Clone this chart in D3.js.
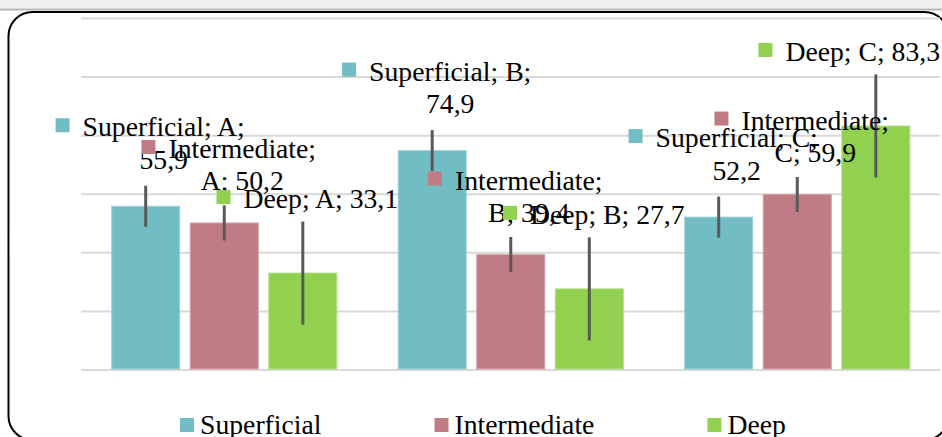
<!DOCTYPE html>
<html>
<head>
<meta charset="utf-8">
<script src="https://cdn.jsdelivr.net/npm/d3@7"></script>
<style>
  html, body { margin: 0; padding: 0; background: #fff; }
  svg { display: block; }
  text { font-family: "Liberation Serif", "Times New Roman", serif; fill: #000; }
</style>
</head>
<body>
<svg id="chart" width="942" height="437"></svg>
<script>
// data
var categories = ["A", "B", "C"];
var seriesNames = ["Superficial", "Intermediate", "Deep"];
var superficial = [55.9, 74.9, 52.2];
var intermediate = [50.2, 39.4, 59.9];
var deep = [33.1, 27.7, 83.3];
var errSuperficial = [7, 7, 7];
var errIntermediate = [6, 6, 6];
var errDeep = [17.6, 17.6, 17.6];
var yTicks = [0, 20, 40, 60, 80, 100, 120];

var seriesValues = [superficial, intermediate, deep];
var seriesErr = [errSuperficial, errIntermediate, errDeep];
var colors = ["#72bcc4", "#c07c85", "#92d050"];
var edgeColors = ["#9fd2d7", "#d5a2a9", "#b3df84"];
var labelDy = [-70, -65, -65];

var svg = d3.select("#chart");
var fontSize = 27.7;

// page strip on top + rounded frame
svg.append("rect").attr("x", 0).attr("y", 0).attr("width", 942).attr("height", 8).attr("fill", "#efefef");
svg.append("line").attr("x1", 0).attr("x2", 942).attr("y1", 9.5).attr("y2", 9.5).attr("stroke", "#b5b5b5").attr("stroke-width", 2);
svg.append("rect").attr("x", 8.5).attr("y", 12).attr("width", 940).attr("height", 428)
  .attr("rx", 24).attr("ry", 24).attr("fill", "#fff").attr("stroke", "#000").attr("stroke-width", 2);

var y = d3.scaleLinear().domain([0, 120]).range([370, 18.5]);
var x = d3.scaleBand().domain(categories).range([81, 940.5]).paddingInner(0).paddingOuter(0);
var xs = d3.scaleBand().domain(seriesNames).range([0, x.bandwidth()]).paddingInner(0.121).paddingOuter(0.384);

// gridlines
svg.append("g").selectAll("line").data(yTicks).join("line")
  .attr("x1", 81).attr("x2", 940)
  .attr("y1", d => y(d)).attr("y2", d => y(d))
  .attr("stroke", "#d9d9d9").attr("stroke-width", 2);

var rows = [];
seriesNames.forEach((s, si) => {
  categories.forEach((c, ci) => {
    rows.push({ series: s, si: si, cat: c, value: seriesValues[si][ci], err: seriesErr[si][ci] });
  });
});

var bars = svg.append("g");
bars.selectAll("rect").data(rows).join("rect")
  .attr("x", d => x(d.cat) + xs(d.series) + 0.5)
  .attr("y", d => y(d.value))
  .attr("width", xs.bandwidth() - 1)
  .attr("height", d => y(0) - y(d.value) - 1)
  .attr("fill", d => colors[d.si])
  .attr("stroke", d => edgeColors[d.si]).attr("stroke-width", 1);

// error bars
svg.append("g").selectAll("line").data(rows).join("line")
  .attr("x1", d => x(d.cat) + xs(d.series) + xs.bandwidth() / 2)
  .attr("x2", d => x(d.cat) + xs(d.series) + xs.bandwidth() / 2)
  .attr("y1", d => y(d.value + d.err))
  .attr("y2", d => y(d.value - d.err))
  .attr("stroke", "#595959").attr("stroke-width", 3);

// data labels: "Series; Cat; value" with key, wrapped like Excel
var fmt = v => String(v.toFixed(1)).replace(".", ",");
var measure = svg.append("text").attr("font-size", fontSize).attr("visibility", "hidden");
function textWidth(t) { measure.text(t); return measure.node().getComputedTextLength(); }
function wrap(str, maxW) {
  var words = str.split(" "), lines = [], cur = "";
  words.forEach(w => {
    var test = cur ? cur + " " + w : w;
    if (cur && textWidth(test) > maxW) { lines.push(cur); cur = w; } else cur = test;
  });
  lines.push(cur);
  return lines;
}

var labels = svg.append("g");
rows.forEach(d => {
  var lines = wrap(d.series + "; " + d.cat + "; " + fmt(d.value), 172);
  var widths = lines.map(textWidth);
  var cx = x(d.cat) + xs(d.series) + xs.bandwidth() / 2 + 18;
  var maxHalf = d3.max(widths) / 2;
  if (cx + maxHalf > 940) cx = 940 - maxHalf;
  var base = y(d.value) + labelDy[d.si];
  var g = labels.append("g");
  g.append("rect")
    .attr("x", cx - widths[0] / 2 - 27).attr("y", base - 18)
    .attr("width", 14).attr("height", 14).attr("fill", colors[d.si]);
  lines.forEach((ln, i) => {
    g.append("text").attr("x", cx).attr("y", base + i * 32.5)
      .attr("text-anchor", "middle").attr("font-size", fontSize).text(ln);
  });
});

// legend
var legend = svg.append("g");
var lx = 180;
seriesNames.forEach((s, i) => {
  legend.append("rect").attr("x", lx).attr("y", 418).attr("width", 14).attr("height", 14).attr("fill", colors[i]);
  legend.append("text").attr("x", lx + 20).attr("y", 434).attr("font-size", fontSize).text(s);
  lx += 20 + textWidth(s) + 113;
});
measure.remove();
</script>
</body>
</html>
